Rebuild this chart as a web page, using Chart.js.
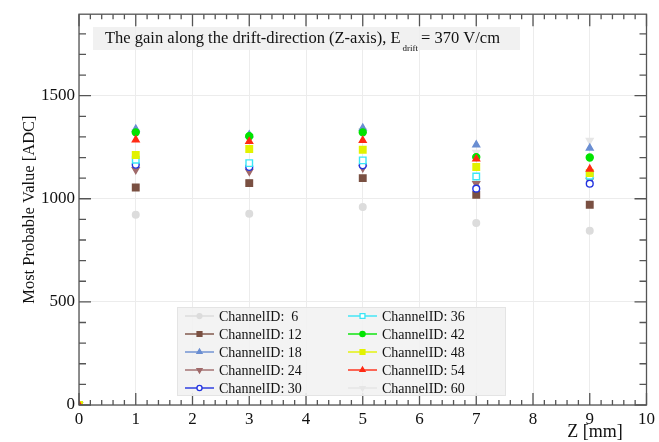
<!DOCTYPE html>
<html>
<head>
<meta charset="utf-8">
<style>
  html, body { margin: 0; padding: 0; background: #fff; }
  canvas { display: block; }
</style>
<script src="https://cdn.jsdelivr.net/npm/chart.js@4/dist/chart.umd.min.js"></script>
</head>
<body>
<canvas id="gain" width="659" height="442"></canvas>
<script>
// Drift positions along Z [mm]
const zPositions = [0, 1, 3, 5, 7, 9];

// Most probable value [ADC] per channel at each Z position
const ch6  = [0,  922,  927,  960,  882,  845];
const ch12 = [0, 1055, 1076, 1100, 1019,  971];
const ch18 = [0, 1338, 1310, 1343, 1262, 1246];
const ch24 = [0, 1141, 1133, 1150, 1073, 1089];
const ch30 = [0, 1165, 1154, 1162, 1049, 1073];
const ch36 = [0, 1189, 1173, 1186, 1108, 1112];
const ch42 = [0, 1322, 1303, 1322, 1202, 1200];
const ch48 = [0, 1212, 1241, 1238, 1154, 1125];
const ch54 = [0, 1286, 1278, 1283, 1193, 1144];
const ch60 = [0, 1325, 1300, 1330, 1225, 1283];

const channelIds = [6, 12, 18, 24, 30, 36, 42, 48, 54, 60];
const channelValues = [ch6, ch12, ch18, ch24, ch30, ch36, ch42, ch48, ch54, ch60];

// Axis ticks
const xTicks = [0, 1, 2, 3, 4, 5, 6, 7, 8, 9, 10];
const yTicks = [0, 500, 1000, 1500];

// Marker style per channel
const styles = [
  { color: '#dcdcdc', fill: '#dcdcdc', shape: 'circle',   rot: 0,   r: 3.3 },
  { color: '#7a5042', fill: '#7a5042', shape: 'rect',     rot: 0,   r: 4.6 },
  { color: '#6a8ed2', fill: '#6a8ed2', shape: 'triangle', rot: 0,   r: 3.9 },
  { color: '#a06a6a', fill: '#a06a6a', shape: 'triangle', rot: 180, r: 3.9 },
  { color: '#2233e0', fill: '#ffffff', shape: 'circle',   rot: 0,   r: 3.4 },
  { color: '#3ae6f6', fill: '#ffffff', shape: 'rect',     rot: 0,   r: 4.6 },
  { color: '#00e400', fill: '#00e400', shape: 'circle',   rot: 0,   r: 3.5 },
  { color: '#e2f200', fill: '#e2f200', shape: 'rect',     rot: 0,   r: 4.6 },
  { color: '#ff2a14', fill: '#ff2a14', shape: 'triangle', rot: 0,   r: 3.9 },
  { color: '#e6e6e6', fill: '#e6e6e6', shape: 'triangle', rot: 180, r: 3.9 }
];

const datasets = channelIds.map((id, i) => ({
  label: 'ChannelID: ' + (id < 10 ? ' ' + id : id),
  data: zPositions.map((z, k) => ({ x: z, y: channelValues[i][k] })),
  showLine: false,
  pointStyle: styles[i].shape,
  pointRotation: styles[i].rot,
  pointRadius: styles[i].r,
  pointHoverRadius: styles[i].r,
  pointBorderWidth: 1.4,
  borderColor: styles[i].color,
  backgroundColor: styles[i].fill,
  order: i === 9 ? 30 : 20 - i
}));

const SERIF = '"Liberation Serif", "DejaVu Serif", serif';

function drawMarker(ctx, st, x, y, scale) {
  ctx.save();
  ctx.fillStyle = st.fill;
  ctx.strokeStyle = st.color;
  ctx.lineWidth = 1.3;
  Chart.helpers.drawPoint(ctx, {
    pointStyle: st.shape, radius: st.r * scale, rotation: st.rot, borderWidth: 1.3
  }, x, y);
  ctx.restore();
}

// Frame with inward ticks on all four sides, title box, legend, axis titles
const framePlugin = {
  id: 'frame',
  afterDatasetsDraw(chart) {
    const { ctx, chartArea: a, scales } = chart;
    const xs = scales.x, ys = scales.y;
    ctx.save();
    ctx.strokeStyle = '#555';
    ctx.lineWidth = 1.3;
    ctx.strokeRect(a.left, a.top, a.right - a.left, a.bottom - a.top);

    ctx.beginPath();
    // x ticks: major every 1, minor every 0.2
    for (let v = 0; v <= 10.0001; v += 0.2) {
      const px = xs.getPixelForValue(v);
      const major = Math.abs(v - Math.round(v)) < 1e-6;
      const len = major ? 12 : 5;
      ctx.moveTo(px, a.bottom); ctx.lineTo(px, a.bottom - len);
      ctx.moveTo(px, a.top);    ctx.lineTo(px, a.top + len);
    }
    // y ticks: major every 500, minor every 100
    for (let v = 0; v <= ys.max; v += 100) {
      const py = ys.getPixelForValue(v);
      const len = v % 500 === 0 ? 12 : 7;
      ctx.moveTo(a.left, py);  ctx.lineTo(a.left + len, py);
      ctx.moveTo(a.right, py); ctx.lineTo(a.right - len, py);
    }
    ctx.stroke();

    // Title box
    ctx.fillStyle = 'rgba(238,238,238,0.85)';
    ctx.fillRect(93, 27, 427, 23);
    ctx.fillStyle = '#111';
    ctx.textBaseline = 'alphabetic';
    ctx.textAlign = 'left';
    const titleFont = '16.5px ' + SERIF;
    ctx.font = titleFont;
    const main = 'The gain along the drift-direction (Z-axis), E';
    ctx.fillText(main, 105, 43);
    let tx = 105 + ctx.measureText(main).width + 2;
    ctx.font = '9px ' + SERIF;
    ctx.fillText('drift', tx, 51);
    tx += ctx.measureText('drift').width + 3;
    ctx.font = titleFont;
    ctx.fillText('= 370 V/cm', tx, 43);

    // Legend
    ctx.fillStyle = 'rgba(242,242,242,0.9)';
    ctx.fillRect(177, 307, 328, 88);
    ctx.strokeStyle = '#e4e4e4';
    ctx.lineWidth = 1;
    ctx.strokeRect(177.5, 307.5, 328, 88);
    ctx.font = '14px ' + SERIF;
    ctx.textBaseline = 'middle';
    chart.data.datasets.forEach((ds, i) => {
      const col = Math.floor(i / 5), row = i % 5;
      const lx = col === 0 ? 185 : 348;
      const ly = 316 + row * 18;
      const st = styles[i];
      ctx.strokeStyle = st.color;
      ctx.lineWidth = 1.4;
      ctx.beginPath();
      ctx.moveTo(lx, ly); ctx.lineTo(lx + 29, ly);
      ctx.stroke();
      drawMarker(ctx, st, lx + 14.5, ly, 0.75);
      ctx.fillStyle = '#111';
      ctx.fillText(ds.label, lx + 34, ly + 1);
    });

    // Axis titles
    ctx.fillStyle = '#111';
    ctx.textAlign = 'center';
    ctx.textBaseline = 'middle';
    ctx.font = '18px ' + SERIF;
    ctx.fillText('Z [mm]', 595, 432);
    ctx.font = '16.5px ' + SERIF;
    ctx.translate(30, (a.top + a.bottom) / 2);
    ctx.rotate(-Math.PI / 2);
    ctx.fillText('Most Probable Value [ADC]', 0, 0);
    ctx.restore();
  }
};

new Chart(document.getElementById('gain'), {
  type: 'scatter',
  data: { datasets },
  options: {
    responsive: false,
    animation: false,
    devicePixelRatio: 1,
    layout: { padding: { top: 14, right: 2, left: 0, bottom: 0 } },
    plugins: { legend: { display: false }, tooltip: { enabled: false } },
    scales: {
      x: {
        type: 'linear', min: 0, max: 10,
        afterBuildTicks: s => { s.ticks = xTicks.map(v => ({ value: v })); },
        afterFit: s => { s.height = 37; },
        grid: { color: '#ececec', lineWidth: 1, drawTicks: false },
        border: { display: false },
        ticks: { padding: 4, color: '#111', font: { family: SERIF, size: 17 }, maxRotation: 0,
                 callback: v => String(v) }
      },
      y: {
        type: 'linear', min: 0, max: 1895,
        afterBuildTicks: s => { s.ticks = yTicks.map(v => ({ value: v })); },
        afterFit: s => { s.width = 79; },
        grid: { color: '#ececec', lineWidth: 1, drawTicks: false },
        border: { display: false },
        ticks: { padding: 4, color: '#111', font: { family: SERIF, size: 17 },
                 callback: v => String(v) }
      }
    }
  },
  plugins: [framePlugin]
});
</script>
</body>
</html>
